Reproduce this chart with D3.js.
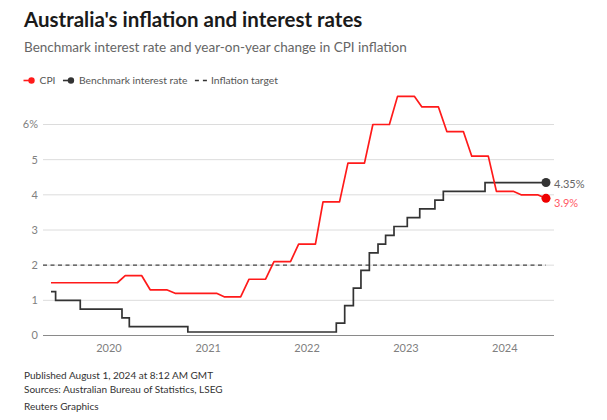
<!doctype html>
<html lang="en">
  <head>
    <meta charset="UTF-8" />
    <title>Australia's inflation and interest rates</title>
    <script src="https://d3js.org/d3.v7.min.js"></script>
    <style>
      body {
        margin: 0;
        padding: 0;
        background: #fff;
        overflow: hidden;
      }
      svg {
        display: block;
        font-family: "Source Sans Pro", Lato, "Noto Sans", sans-serif;
      }
    </style>
  </head>
  <body>
    <script>
      // CPI, year-on-year %, one value per quarter (first month of each quarter block)
      const cpiStarts = [
        "2019-06", "2019-09", "2019-12", "2020-03", "2020-06", "2020-09", "2020-12",
        "2021-03", "2021-06", "2021-09", "2021-12", "2022-03", "2022-06", "2022-09",
        "2022-12", "2023-03", "2023-06", "2023-09", "2023-12", "2024-03", "2024-06",
      ];
      const cpiValues = [
        1.5, 1.5, 1.5, 1.7, 1.3, 1.2, 1.2, 1.1, 1.6, 2.1, 2.6, 3.8, 4.9, 6.0, 6.8, 6.5,
        5.8, 5.1, 4.1, 4.0, 3.9,
      ];

      // benchmark cash rate, %, date each new level starts
      const rateDates = [
        "2019-06-01", "2019-06-18", "2019-09-17", "2020-02-18", "2020-03-16", "2020-10-18",
        "2022-04-19", "2022-05-20", "2022-06-21", "2022-07-19", "2022-08-19", "2022-09-20",
        "2022-10-18", "2022-11-18", "2023-01-06", "2023-02-21", "2023-04-18", "2023-05-19",
        "2023-10-20", "2024-06-01",
      ];
      const rateValues = [
        1.25, 1.0, 0.75, 0.5, 0.25, 0.1, 0.35, 0.85, 1.35, 1.85, 2.35, 2.6, 2.85, 3.1, 3.35,
        3.6, 3.85, 4.1, 4.35, 4.35,
      ];

      const inflationTarget = 2;
      const yTicks = [0, 1, 2, 3, 4, 5, 6];

      const width = 607;
      const height = 420;
      const red = "#ff1a1a";
      const dark = "#333333";

      const parseMonth = d3.timeParse("%Y-%m");
      const parseDay = d3.timeParse("%Y-%m-%d");
      const lastDate = parseDay("2024-06-01");

      const x = d3.scaleTime().domain([parseDay("2019-06-01"), lastDate]).range([51, 546]);
      const y = d3.scaleLinear().domain([0, 6]).range([335.5, 124.5]);
      const gridLeft = 43;
      const gridRight = 554;

      // each quarterly value holds flat over its three months
      const cpiPoints = [];
      cpiStarts.forEach((s, i) => {
        const start = parseMonth(s);
        let end = d3.timeMonth.offset(start, 2);
        if (end > lastDate) end = lastDate;
        cpiPoints.push({ date: start, value: cpiValues[i] });
        if (+end !== +start) cpiPoints.push({ date: end, value: cpiValues[i] });
      });
      const ratePoints = rateDates.map((d, i) => ({ date: parseDay(d), value: rateValues[i] }));

      const svg = d3
        .select("body")
        .append("svg")
        .attr("width", width)
        .attr("height", height)
        .style("background", "#fff");

      svg
        .append("text")
        .attr("x", 24)
        .attr("y", 26.5)
        .attr("font-size", 20.5)
        .attr("font-weight", 700)
        .attr("fill", "#1a1a1a")
        .text("Australia's inflation and interest rates");

      svg
        .append("text")
        .attr("x", 24)
        .attr("y", 51.5)
        .attr("font-size", 13.5)
        .attr("fill", "#666")
        .text("Benchmark interest rate and year-on-year change in CPI inflation");

      // legend, laid out left to right from measured text widths
      const legendItems = [
        { label: "CPI", type: "dot", color: red },
        { label: "Benchmark interest rate", type: "dot", color: dark },
        { label: "Inflation target", type: "dash", color: dark },
      ];
      const legend = svg.append("g").attr("transform", "translate(0,80.5)");
      let lx = 23.5;
      legendItems.forEach((d) => {
        const g = legend.append("g").attr("transform", `translate(${lx},0)`);
        g.append("line")
          .attr("x1", 0)
          .attr("x2", d.type === "dot" ? 9 : 12)
          .attr("stroke", d.color)
          .attr("stroke-width", 1.6)
          .attr("stroke-dasharray", d.type === "dash" ? "4,4" : null);
        if (d.type === "dot") g.append("circle").attr("cx", 8).attr("r", 3.2).attr("fill", d.color);
        const t = g
          .append("text")
          .attr("x", 16)
          .attr("dy", "0.35em")
          .attr("font-size", 10.3)
          .attr("fill", "#555")
          .text(d.label);
        lx += 16 + t.node().getComputedTextLength() + 7.5;
      });

      // grid and y axis
      svg
        .append("g")
        .selectAll("line")
        .data(yTicks.filter((t) => t > 0))
        .join("line")
        .attr("x1", gridLeft)
        .attr("x2", gridRight)
        .attr("y1", (d) => y(d))
        .attr("y2", (d) => y(d))
        .attr("stroke", "#dcdcdc")
        .attr("stroke-width", 1);
      svg
        .append("g")
        .selectAll("text")
        .data(yTicks)
        .join("text")
        .attr("x", 38)
        .attr("y", (d) => y(d))
        .attr("dy", "0.35em")
        .attr("text-anchor", "end")
        .attr("font-size", 11)
        .attr("fill", "#808080")
        .text((d) => (d === 6 ? "6%" : d));

      // x axis labels
      svg
        .append("g")
        .selectAll("text")
        .data(x.ticks(d3.timeYear.every(1)))
        .join("text")
        .attr("x", (d) => x(d))
        .attr("y", 351.5)
        .attr("text-anchor", "middle")
        .attr("font-size", 11)
        .attr("fill", "#808080")
        .text((d) => d3.timeFormat("%Y")(d));

      // inflation target
      svg
        .append("line")
        .attr("x1", gridLeft)
        .attr("x2", x(lastDate))
        .attr("y1", y(inflationTarget))
        .attr("y2", y(inflationTarget))
        .attr("stroke", "#444")
        .attr("stroke-width", 1.4)
        .attr("stroke-dasharray", "4,3.5");

      // lines
      svg
        .append("path")
        .datum(ratePoints)
        .attr("fill", "none")
        .attr("stroke", dark)
        .attr("stroke-width", 1.7)
        .attr(
          "d",
          d3
            .line()
            .curve(d3.curveStepAfter)
            .x((d) => x(d.date))
            .y((d) => y(d.value)),
        );

      svg
        .append("path")
        .datum(cpiPoints)
        .attr("fill", "none")
        .attr("stroke", red)
        .attr("stroke-width", 1.7)
        .attr("stroke-linejoin", "round")
        .attr(
          "d",
          d3
            .line()
            .x((d) => x(d.date))
            .y((d) => y(d.value)),
        );

      // baseline
      svg
        .append("line")
        .attr("x1", gridLeft)
        .attr("x2", gridRight)
        .attr("y1", y(0))
        .attr("y2", y(0))
        .attr("stroke", "#8a8a8a")
        .attr("stroke-width", 1);

      // end points and labels
      const ends = [
        { p: ratePoints[ratePoints.length - 1], color: dark, text: "#666", dy: 2 },
        { p: cpiPoints[cpiPoints.length - 1], color: "#ee0000", text: "#ff5a66", dy: 4.5 },
      ];
      svg
        .append("g")
        .selectAll("circle")
        .data(ends)
        .join("circle")
        .attr("cx", (d) => x(d.p.date))
        .attr("cy", (d) => y(d.p.value))
        .attr("r", 4.5)
        .attr("fill", (d) => d.color);
      svg
        .append("g")
        .selectAll("text")
        .data(ends)
        .join("text")
        .attr("x", (d) => x(d.p.date) + 8)
        .attr("y", (d) => y(d.p.value) + d.dy)
        .attr("dy", "0.35em")
        .attr("font-size", 11)
        .attr("fill", (d) => d.text)
        .text((d) => d.p.value + "%");

      // footer
      const footer = [
        { t: "Published August 1, 2024 at 8:12 AM GMT", y: 379 },
        { t: "Sources: Australian Bureau of Statistics, LSEG", y: 393 },
        { t: "Reuters Graphics", y: 409.5 },
      ];
      svg
        .append("g")
        .selectAll("text")
        .data(footer)
        .join("text")
        .attr("x", 24)
        .attr("y", (d) => d.y)
        .attr("font-family", "'Liberation Sans Narrow', 'Source Sans Pro', Lato, sans-serif")
        .attr("font-size", 10)
        .attr("fill", "#333")
        .text((d) => d.t);
    </script>
  </body>
</html>
